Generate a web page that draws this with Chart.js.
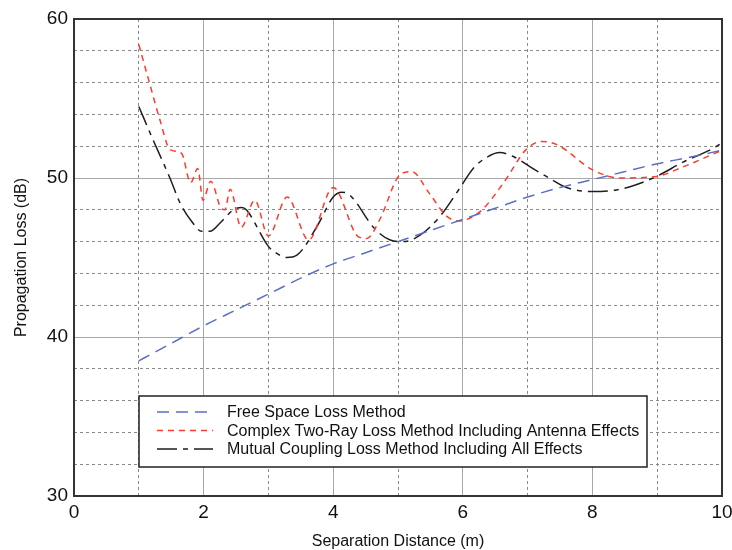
<!DOCTYPE html>
<html>
<head>
<meta charset="utf-8">
<script src="https://cdn.jsdelivr.net/npm/chart.js@4.4.0/dist/chart.umd.min.js"></script>
<style>
  html, body { margin: 0; padding: 0; background: #fff; }
  #wrap { width: 732px; height: 550px; }
</style>
</head>
<body>
<div id="wrap"><canvas id="lossChart" width="732" height="550"></canvas></div>
<script>
// values
const freeSpaceX = [1, 1.5, 2, 2.5, 3, 3.5, 4, 4.5, 5, 5.5, 6, 6.5, 7, 7.5, 8, 8.5, 9, 9.5, 10];
const freeSpaceY = [38.5, 39.6, 40.7, 41.7, 42.7, 43.7, 44.6, 45.3, 46.0, 46.7, 47.4, 48.1, 48.8, 49.4, 49.9, 50.4, 50.9, 51.3, 51.75];

const twoRayX = [1.00, 1.15, 1.33, 1.48, 1.66, 1.80, 1.91, 1.99, 2.11, 2.27, 2.33, 2.41, 2.58, 2.79, 3.00, 3.29, 3.62, 4.00, 4.39, 4.52, 4.72, 5.03, 5.21, 5.49, 5.75, 5.93, 6.27, 6.63, 6.98, 7.22, 7.45, 8.01, 8.43, 8.99, 9.40, 10.0];
const twoRayY = [58.4, 56.2, 53.6, 51.8, 51.55, 49.7, 50.6, 48.6, 49.8, 48.1, 48.0, 49.3, 46.9, 48.6, 46.35, 48.8, 46.1, 49.4, 46.3, 46.2, 47.4, 50.2, 50.4, 49.0, 47.6, 47.3, 47.9, 49.7, 51.8, 52.3, 52.1, 50.5, 50.0, 50.1, 50.7, 51.75];

const couplingX = [1.00, 1.22, 1.48, 1.64, 1.82, 1.97, 2.10, 2.25, 2.46, 2.59, 2.66, 3.00, 3.13, 3.28, 3.44, 3.75, 4.00, 4.13, 4.21, 4.31, 4.62, 4.88, 5.08, 5.34, 5.65, 5.96, 6.16, 6.37, 6.57, 6.78, 7.04, 7.29, 7.60, 8.01, 8.37, 8.58, 8.99, 9.40, 9.81, 10.0];
const couplingY = [54.5, 52.4, 50.0, 48.4, 47.25, 46.65, 46.65, 47.15, 48.0, 48.15, 48.0, 45.7, 45.26, 45.0, 45.15, 46.95, 48.8, 49.1, 49.05, 48.7, 46.9, 46.1, 46.0, 46.4, 47.6, 49.4, 50.6, 51.3, 51.6, 51.35, 50.7, 50.1, 49.4, 49.15, 49.25, 49.45, 50.1, 51.0, 51.75, 52.2];

const seriesNames = [
    'Free Space Loss Method',
    'Complex Two-Ray Loss Method Including Antenna Effects',
    'Mutual Coupling Loss Method Including All Effects'
];
const seriesColors = ['#5b6fc4', '#ff3b2b', '#1e1e1e'];
const seriesDashes = [[12, 7], [6, 5], [20, 6, 5, 6]];

const fontFamily = "'Liberation Sans', Arial, sans-serif";

function toPoints(xs, ys) {
    return xs.map((x, i) => ({ x: x, y: ys[i] }));
}

// plot frame and boxed legend inside the plot
const framePlugin = {
    id: 'frame',
    afterDraw(chart) {
        const ctx = chart.ctx;
        const a = chart.chartArea;
        ctx.save();
        ctx.strokeStyle = '#333';
        ctx.lineWidth = 2;
        ctx.strokeRect(a.left, a.top, a.right - a.left, a.bottom - a.top);

        // legend box
        const bx = 139, by = 396, bw = 508, bh = 71;
        ctx.fillStyle = '#fff';
        ctx.fillRect(bx, by, bw, bh);
        ctx.lineWidth = 1.5;
        ctx.strokeStyle = '#222';
        ctx.strokeRect(bx, by, bw, bh);

        ctx.font = '16px ' + fontFamily;
        ctx.textBaseline = 'middle';
        ctx.textAlign = 'left';
        for (let i = 0; i < seriesNames.length; i++) {
            let y = by + 16 + i * 18.5;
            ctx.beginPath();
            ctx.setLineDash(seriesDashes[i]);
            ctx.strokeStyle = seriesColors[i];
            ctx.lineWidth = 1.5;
            ctx.moveTo(157, y);
            ctx.lineTo(213, y);
            ctx.stroke();
            ctx.setLineDash([]);
            ctx.fillStyle = '#111';
            ctx.fillText(seriesNames[i], 227, y + 1);
        }
        ctx.restore();
    }
};

const ctx = document.getElementById('lossChart');
new Chart(ctx, {
    type: 'line',
    data: {
        datasets: [
            {
                label: seriesNames[0],
                data: toPoints(freeSpaceX, freeSpaceY),
                borderColor: seriesColors[0],
                borderDash: seriesDashes[0],
                borderWidth: 1.5,
                pointRadius: 0,
                fill: false,
                cubicInterpolationMode: 'monotone'
            },
            {
                label: seriesNames[1],
                data: toPoints(twoRayX, twoRayY),
                borderColor: seriesColors[1],
                borderDash: seriesDashes[1],
                borderWidth: 1.5,
                pointRadius: 0,
                fill: false,
                cubicInterpolationMode: 'monotone'
            },
            {
                label: seriesNames[2],
                data: toPoints(couplingX, couplingY),
                borderColor: seriesColors[2],
                borderDash: seriesDashes[2],
                borderWidth: 1.5,
                pointRadius: 0,
                fill: false,
                cubicInterpolationMode: 'monotone'
            }
        ]
    },
    options: {
        responsive: false,
        animation: false,
        layout: {
            padding: { top: 19, right: 10, left: 0, bottom: 0 }
        },
        plugins: {
            legend: { display: false },
            tooltip: { enabled: false }
        },
        scales: {
            x: {
                type: 'linear',
                min: 0,
                max: 10,
                afterFit: (scale) => {
                    scale.height = 54;
                    scale.paddingRight = 0;
                    scale.paddingLeft = 0;
                },
                ticks: {
                    stepSize: 1,
                    padding: 5,
                    color: '#111',
                    font: { family: fontFamily, size: 19 },
                    maxRotation: 0,
                    callback: (v) => (v % 2 === 0 ? v : '')
                },
                grid: {
                    drawTicks: false,
                    lineWidth: 1,
                    color: (c) => (c.tick && c.tick.value % 2 === 0 ? '#a8a8a8' : '#8a8a8a')
                },
                border: {
                    display: false,
                    dash: (c) => (c.tick && c.tick.value % 2 !== 0 ? [3, 3] : [])
                },
                title: {
                    display: true,
                    text: 'Separation Distance (m)',
                    color: '#111',
                    font: { family: fontFamily, size: 16, lineHeight: 1 },
                    padding: { top: 0, bottom: 0 }
                }
            },
            y: {
                min: 30,
                max: 60,
                afterFit: (scale) => { scale.width = 74; },
                ticks: {
                    stepSize: 2,
                    padding: 6,
                    color: '#111',
                    font: { family: fontFamily, size: 19 },
                    callback: (v) => (v % 10 === 0 ? v : '')
                },
                grid: {
                    drawTicks: false,
                    lineWidth: 1,
                    color: (c) => (c.tick && c.tick.value % 10 === 0 ? '#a8a8a8' : '#8a8a8a')
                },
                border: {
                    display: false,
                    dash: (c) => (c.tick && c.tick.value % 10 !== 0 ? [3, 3] : [])
                },
                title: {
                    display: true,
                    text: 'Propagation Loss (dB)',
                    color: '#111',
                    font: { family: fontFamily, size: 16 },
                    padding: { top: 12, bottom: 0 }
                }
            }
        }
    },
    plugins: [framePlugin]
});
</script>
</body>
</html>
